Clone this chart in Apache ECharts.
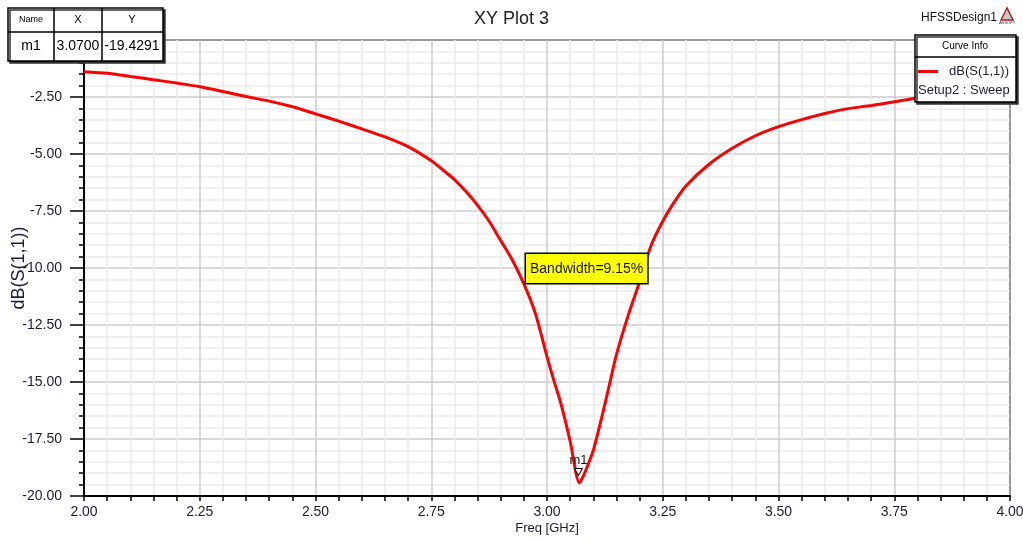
<!DOCTYPE html>
<html>
<head>
<meta charset="utf-8">
<script src="https://cdn.jsdelivr.net/npm/echarts@6/dist/echarts.min.js"></script>
<style>
  html, body { margin: 0; padding: 0; background: #fff; }
  #chart { width: 1023px; height: 542px; }
</style>
</head>
<body>
<div id="chart"></div>
<script>
// values
const freq = [2.00, 2.05, 2.10, 2.15, 2.20, 2.25, 2.30, 2.35, 2.40, 2.45,
              2.50, 2.55, 2.60, 2.65, 2.70, 2.75, 2.775, 2.80, 2.825, 2.85,
              2.875, 2.90, 2.925, 2.95, 2.975, 3.00, 3.015, 3.03, 3.05, 3.07,
              3.08, 3.09, 3.10, 3.12, 3.135, 3.15, 3.175, 3.20, 3.225, 3.25,
              3.275, 3.30, 3.35, 3.40, 3.45, 3.50, 3.55, 3.60, 3.65, 3.70,
              3.75, 3.80, 3.85, 3.90, 3.95, 4.00]
const s11 = [-1.39, -1.46, -1.60, -1.74, -1.89, -2.05, -2.26, -2.48, -2.68, -2.93,
             -3.24, -3.56, -3.90, -4.25, -4.68, -5.30, -5.70, -6.12, -6.65, -7.25,
             -7.95, -8.80, -9.65, -10.70, -12.00, -13.89, -14.95, -15.95, -17.60, -19.43,
             -19.05, -18.55, -18.00, -16.40, -15.10, -13.80, -12.10, -10.60, -9.00, -7.95,
             -7.10, -6.40, -5.45, -4.75, -4.20, -3.80, -3.49, -3.22, -3.01, -2.87,
             -2.71, -2.54, -2.40, -2.30, -2.20, -2.10]
const xTicks = [2.00, 2.25, 2.50, 2.75, 3.00, 3.25, 3.50, 3.75, 4.00]
const yTicks = [-20.00, -17.50, -15.00, -12.50, -10.00, -7.50, -5.00, -2.50, 0]
const markerX = 3.07
const markerY = -19.4291
const bandwidth = '9.15%'

const FONT = '"Liberation Sans", Arial, sans-serif'
const txt = '#1c1c38'

let chart = echarts.init(document.getElementById('chart'))

let option = {
  animation: false,
  title: {
    text: 'XY Plot 3',
    left: 'center',
    top: 5,
    textStyle: { fontFamily: FONT, fontSize: 18, fontWeight: 'normal', color: '#222' }
  },
  grid: {
    left: 84, right: 13, top: 40, bottom: 46,
    outerBoundsMode: 'none',
    containLabel: false,
    show: true, borderColor: '#000', borderWidth: 2
  },
  legend: {
    data: ['dB(S(1,1))'],
    left: 918, top: 65,
    z: 200,
    padding: 0,
    icon: 'rect',
    itemWidth: 20, itemHeight: 3,
    textStyle: { fontFamily: FONT, fontSize: 13, color: txt, padding: [0, 0, 0, 6] }
  },
  xAxis: {
    type: 'value',
    min: xTicks[0], max: xTicks[xTicks.length - 1],
    interval: 0.25,
    name: 'Freq [GHz]',
    nameLocation: 'middle',
    nameGap: 26,
    nameMoveOverlap: false,
    nameTextStyle: { fontFamily: FONT, fontSize: 13, color: txt },
    axisLine: { onZero: false, lineStyle: { color: '#000', width: 2 } },
    axisTick: { length: 5, lineStyle: { color: '#000', width: 1.5 } },
    minorTick: { show: true, splitNumber: 5, length: 5, lineStyle: { color: '#000', width: 1.5 } },
    axisLabel: {
      margin: 9, fontFamily: FONT, fontSize: 14, color: txt,
      formatter: v => v.toFixed(2)
    },
    splitLine: { show: true, lineStyle: { color: '#cdcdcd', width: 1.5 } },
    minorSplitLine: { show: true, lineStyle: { color: '#ebebeb', width: 1.5 } }
  },
  yAxis: {
    type: 'value',
    min: yTicks[0], max: yTicks[yTicks.length - 1],
    interval: 2.5,
    name: 'dB(S(1,1))',
    nameLocation: 'middle',
    nameGap: 56,
    nameMoveOverlap: false,
    nameTextStyle: { fontFamily: FONT, fontSize: 18, color: txt },
    axisLine: { onZero: false, lineStyle: { color: '#000', width: 2 } },
    axisTick: { length: 14, lineStyle: { color: '#000', width: 1.5 } },
    minorTick: { show: true, splitNumber: 5, length: 5, lineStyle: { color: '#000', width: 1.5 } },
    axisLabel: {
      margin: 22, fontFamily: FONT, fontSize: 14, color: txt,
      formatter: v => v.toFixed(2)
    },
    splitLine: { show: true, lineStyle: { color: '#cdcdcd', width: 1.5 } },
    minorSplitLine: { show: true, lineStyle: { color: '#ebebeb', width: 1.5 } }
  },
  series: [{
    name: 'dB(S(1,1))',
    type: 'line',
    data: freq.map((f, i) => [f, s11[i]]),
    showSymbol: false,
    smooth: 0.25,
    color: '#ff0000',
    lineStyle: { color: '#ff0000', width: 3 },
    markPoint: {
      data: [{ coord: [markerX, markerY] }],
      symbol: 'triangle',
      symbolRotate: 180,
      symbolSize: [8, 7],
      symbolOffset: [-1, -11],
      itemStyle: { color: '#fff', borderColor: '#000', borderWidth: 1 },
      label: {
        show: true, position: 'top', distance: 1,
        formatter: 'm1', fontFamily: FONT, fontSize: 13, color: '#111'
      }
    }
  }],
  graphic: [
    // marker table
    { type: 'rect', z: 100, shape: { x: 8, y: 8, width: 155, height: 53 },
      style: { fill: '#fff', stroke: '#000', lineWidth: 1.5,
               shadowColor: '#333', shadowOffsetX: 2, shadowOffsetY: 2 } },
    { type: 'line', z: 101, shape: { x1: 8, y1: 32, x2: 163, y2: 32 }, style: { stroke: '#000', lineWidth: 1.5 } },
    { type: 'line', z: 101, shape: { x1: 54, y1: 8, x2: 54, y2: 61 }, style: { stroke: '#000', lineWidth: 1.5 } },
    { type: 'line', z: 101, shape: { x1: 102, y1: 8, x2: 102, y2: 61 }, style: { stroke: '#000', lineWidth: 1.5 } },
    { type: 'text', z: 102, x: 31, y: 20, style: { text: 'Name', font: '9px ' + FONT, fill: '#000', align: 'center', verticalAlign: 'middle' } },
    { type: 'text', z: 102, x: 78, y: 20, style: { text: 'X', font: '11px ' + FONT, fill: '#000', align: 'center', verticalAlign: 'middle' } },
    { type: 'text', z: 102, x: 132, y: 20, style: { text: 'Y', font: '11px ' + FONT, fill: '#000', align: 'center', verticalAlign: 'middle' } },
    { type: 'text', z: 102, x: 31, y: 46, style: { text: 'm1', font: '14px ' + FONT, fill: '#000', align: 'center', verticalAlign: 'middle' } },
    { type: 'text', z: 102, x: 78, y: 46, style: { text: markerX.toFixed(4), font: '14px ' + FONT, fill: '#000', align: 'center', verticalAlign: 'middle' } },
    { type: 'text', z: 102, x: 132, y: 46, style: { text: markerY.toFixed(4), font: '14px ' + FONT, fill: '#000', align: 'center', verticalAlign: 'middle' } },

    // curve info box
    { type: 'rect', z: 100, shape: { x: 915, y: 35, width: 101, height: 67 },
      style: { fill: '#fff', stroke: '#000', lineWidth: 1.5,
               shadowColor: '#333', shadowOffsetX: 2, shadowOffsetY: 2 } },
    { type: 'line', z: 101, shape: { x1: 915, y1: 57, x2: 1016, y2: 57 }, style: { stroke: '#000', lineWidth: 1.5 } },
    { type: 'text', z: 102, x: 965, y: 46, style: { text: 'Curve Info', font: '10px ' + FONT, fill: '#000', align: 'center', verticalAlign: 'middle' } },
    { type: 'text', z: 102, x: 918, y: 90, style: { text: 'Setup2 : Sweep', font: '13px ' + FONT, fill: txt, align: 'left', verticalAlign: 'middle' } },

    // design name + logo
    { type: 'text', z: 100, x: 921, y: 18, style: { text: 'HFSSDesign1', font: '12px ' + FONT, fill: '#111', align: 'left', verticalAlign: 'middle' } },
    { type: 'polygon', z: 100, shape: { points: [[1001, 20], [1007, 8], [1013, 20]] }, style: { fill: '#c8c8c8', stroke: '#b02020', lineWidth: 1.5 } },
    { type: 'text', z: 100, x: 1007, y: 23, style: { text: 'ANSOFT', font: '4px ' + FONT, fill: '#333', align: 'center', verticalAlign: 'middle' } },

    // bandwidth note
    { type: 'text', z: 100, x: 526, y: 254,
      style: { text: 'Bandwidth=' + bandwidth, font: '14px ' + FONT, fill: '#111',
               backgroundColor: '#ffff00', borderColor: '#000', borderWidth: 1.5,
               padding: [8, 4, 7, 4] } }
  ]
}

chart.setOption(option)
</script>
</body>
</html>
